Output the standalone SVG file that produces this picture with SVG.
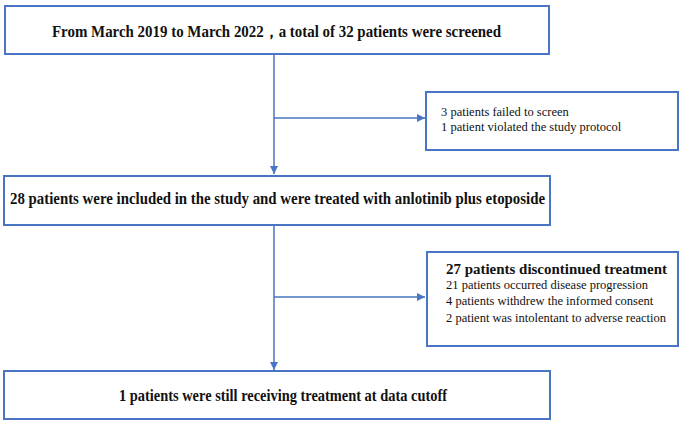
<svg xmlns="http://www.w3.org/2000/svg" width="685" height="422" viewBox="0 0 685 422">
<style>
.box{fill:#fff;stroke:#4a74c4;stroke-width:2}
.ln{fill:none;stroke:#4a74c4;stroke-width:1.5}
.t{font-family:"Liberation Serif","Times New Roman",serif;fill:#111}
.b{font-weight:bold;font-size:16px}
.s{font-size:12.5px}
</style>
<defs>
<marker id="ah" viewBox="0 0 10 10" refX="10" refY="5" markerWidth="8" markerHeight="8" markerUnits="userSpaceOnUse" orient="auto">
<path d="M0,0 L10,5 L0,10 z" fill="#4a74c4"/>
</marker>
</defs>
<g id="connectors">
<line class="ln" x1="274" y1="55" x2="274" y2="174" marker-end="url(#ah)"/>
<line class="ln" x1="274" y1="118" x2="425" y2="118" marker-end="url(#ah)"/>
<line class="ln" x1="274" y1="226" x2="274" y2="370" marker-end="url(#ah)"/>
<line class="ln" x1="274" y1="297" x2="425" y2="297" marker-end="url(#ah)"/>
</g>
<g id="n1">
<rect class="box" x="5" y="6" width="544" height="48"/>
<text class="t b" x="52" y="37" textLength="449" lengthAdjust="spacingAndGlyphs">From March 2019 to March 2022，a total of 32 patients were screened</text>
</g>
<g id="n2">
<rect class="box" x="426" y="92" width="252" height="58"/>
<text class="t s" x="441" y="116">3 patients failed to screen</text>
<text class="t s" x="441" y="131">1 patient violated the study protocol</text>
</g>
<g id="n3">
<rect class="box" x="4" y="176" width="546" height="49"/>
<text class="t b" x="10" y="204" textLength="535" lengthAdjust="spacingAndGlyphs">28 patients were included in the study and were treated with anlotinib plus etoposide</text>
</g>
<g id="n4">
<rect class="box" x="427" y="252" width="251" height="94"/>
<text class="t" x="446" y="274" font-size="15" font-weight="bold" textLength="221" lengthAdjust="spacingAndGlyphs">27 patients discontinued treatment</text>
<text class="t s" x="446" y="289">21 patients occurred disease progression</text>
<text class="t s" x="446" y="305">4 patients withdrew the informed consent</text>
<text class="t s" x="446" y="322">2 patient was intolentant to adverse reaction</text>
</g>
<g id="n5">
<rect class="box" x="4" y="371" width="546" height="48"/>
<text class="t b" x="119" y="401" textLength="328" lengthAdjust="spacingAndGlyphs">1 patients were still receiving treatment at data cutoff</text>
</g>
</svg>
